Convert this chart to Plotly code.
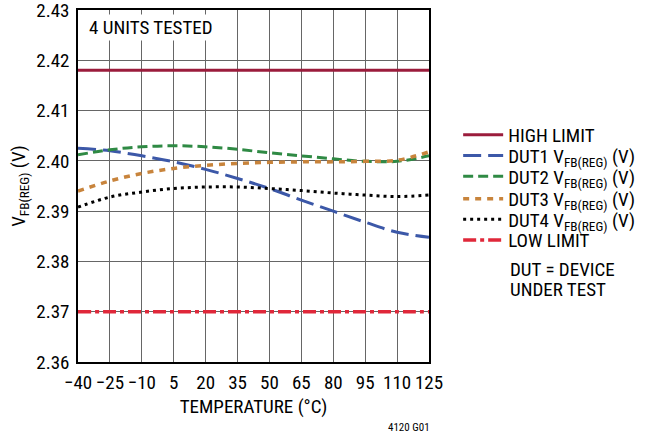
import plotly.graph_objects as go

# -------------------- DATA --------------------
temps = [-40, -25, -10, 5, 20, 35, 50, 65, 80, 95, 110, 125]

high_limit = [2.418] * len(temps)
low_limit = [2.370] * len(temps)

dut1 = [2.4025, 2.4020, 2.4010, 2.3998, 2.3983, 2.3965, 2.3945, 2.3922, 2.3900, 2.3878, 2.3858, 2.3848]
dut2 = [2.4012, 2.4022, 2.4028, 2.4030, 2.4028, 2.4023, 2.4016, 2.4010, 2.4004, 2.3999, 2.3999, 2.4010]
dut3 = [2.3940, 2.3960, 2.3975, 2.3985, 2.3991, 2.3995, 2.3997, 2.3998, 2.3998, 2.3999, 2.4001, 2.4018]
dut4 = [2.3908, 2.3928, 2.3938, 2.3945, 2.3948, 2.3948, 2.3945, 2.3941, 2.3936, 2.3932, 2.3929, 2.3932]

y_ticks = [2.36, 2.37, 2.38, 2.39, 2.40, 2.41, 2.42, 2.43]

FONT = 'Roboto Condensed, DejaVu Sans Condensed, sans-serif'
SUB = 'V<sub>FB(REG)</sub> (V)'

# name, values, colour, dash, width, legend row (paper y)
series = [
    ('HIGH LIMIT', high_limit, '#9b1c3c', 'solid', 3, 0.645),
    ('DUT1 ' + SUB, dut1, '#3c58a8', '18px,7px', 3, 0.586),
    ('DUT2 ' + SUB, dut2, '#2f8a44', '10px,5px', 3, 0.527),
    ('DUT3 ' + SUB, dut3, '#c8843c', '6px,6px', 3.5, 0.463),
    ('DUT4 ' + SUB, dut4, '#000000', '3px,4px', 3, 0.405),
    ('LOW LIMIT', low_limit, '#e0283a', '13px,4px,4px,4px', 3.5, 0.346),
]

fig = go.Figure()
legends = {}
for i, (name, vals, color, dash, w, row) in enumerate(series):
    key = 'legend' if i == 0 else 'legend%d' % (i + 1)
    fig.add_trace(go.Scatter(x=temps, y=vals, name=name, mode='lines', legend=key,
                             line=dict(color=color, dash=dash, width=w, shape='spline')))
    legends[key] = dict(x=1.08, y=row, xanchor='left', yanchor='middle',
                        font=dict(size=19), bgcolor='rgba(0,0,0,0)', itemwidth=40,
                        borderwidth=0)

fig.update_xaxes(range=[-40, 125], tickvals=temps, tickangle=0, showgrid=True, gridcolor='#666666', gridwidth=1,
                 showline=True, linecolor='black', linewidth=1.5, mirror=True,
                 ticks='', ticklabelstandoff=2, tickfont=dict(size=19), automargin=False,
                 ticklabeloverflow='allow',
                 title=dict(text='TEMPERATURE (°C)', font=dict(size=19), standoff=7),
                 zeroline=False)
fig.update_yaxes(range=[2.36, 2.43], tickvals=y_ticks, tickformat='.2f', showgrid=True,
                 gridcolor='#666666', gridwidth=1,
                 showline=True, linecolor='black', linewidth=1.5, mirror=True,
                 ticks='', ticklabelstandoff=3, tickfont=dict(size=19), automargin=False,
                 ticklabeloverflow='allow',
                 title=dict(text='V<sub>FB(REG)</sub> (V)', font=dict(size=19), standoff=6),
                 zeroline=False)

fig.add_annotation(text='4 UNITS TESTED', xref='paper', yref='paper', x=0.025, y=0.95,
                   xanchor='left', yanchor='middle', showarrow=False, font=dict(size=19),
                   bgcolor='white')
fig.add_annotation(text='DUT = DEVICE', xref='paper', yref='paper', x=1.225, y=0.264,
                   xanchor='left', yanchor='middle', showarrow=False, font=dict(size=19))
fig.add_annotation(text='UNDER TEST', xref='paper', yref='paper', x=1.225, y=0.205,
                   xanchor='left', yanchor='middle', showarrow=False, font=dict(size=19))
fig.add_annotation(text='4120 G01', xref='paper', yref='paper', x=0.943, y=-0.185,
                   xanchor='center', yanchor='middle', showarrow=False, font=dict(size=11))

fig.update_layout(width=649, height=438, margin=dict(l=78, r=219, t=10, b=76),
                  plot_bgcolor='white', paper_bgcolor='white',
                  font=dict(family=FONT, color='black', size=19),
                  showlegend=True, **legends)

# drop the default 8px page margin so the figure sits at the window's corner
fig.write_html("out.html", config={'displayModeBar': False},
               post_script="document.body.style.margin = '0';")
